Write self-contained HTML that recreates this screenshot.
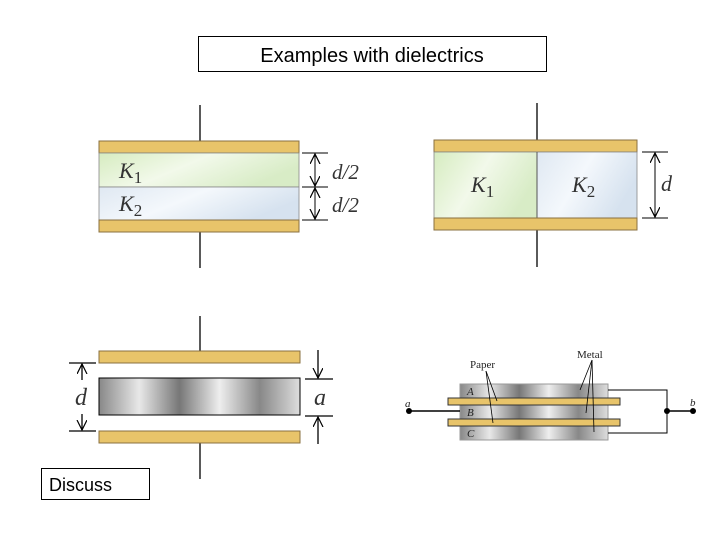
<!DOCTYPE html>
<html><head><style>body{margin:0;background:#fff}svg{display:block}</style></head><body>
<svg width="720" height="540" xmlns="http://www.w3.org/2000/svg" font-family="Liberation Serif, serif">
<defs>
<linearGradient id="g1" x1="0" y1="0" x2="1" y2="0.4"><stop offset="0" stop-color="#d6ecc0"/><stop offset="0.5" stop-color="#f2f9ea"/><stop offset="1" stop-color="#d8ecc6"/></linearGradient>
<linearGradient id="g2" x1="0" y1="0" x2="1" y2="0.4"><stop offset="0" stop-color="#dfe8f2"/><stop offset="0.5" stop-color="#f4f8fc"/><stop offset="1" stop-color="#d6e2ef"/></linearGradient>
<linearGradient id="gm2" x1="0" y1="0" x2="1" y2="0"><stop offset="0" stop-color="#888"/><stop offset="0.2" stop-color="#e8e8e8"/><stop offset="0.4" stop-color="#777"/><stop offset="0.6" stop-color="#eee"/><stop offset="0.8" stop-color="#888"/><stop offset="1" stop-color="#ddd"/></linearGradient>
<marker id="ah" markerWidth="12" markerHeight="12" refX="10" refY="5" orient="auto" markerUnits="userSpaceOnUse"><path d="M0,0 L10,5 L0,10" fill="none" stroke="#000" stroke-width="1.2"/></marker>
</defs>
<rect x="198.5" y="36.5" width="348" height="35" fill="#fff" stroke="#000" stroke-width="1"/>
<text x="372" y="62" font-family="Liberation Sans, sans-serif" font-size="20" text-anchor="middle">Examples with dielectrics</text>

<g stroke="#000" stroke-width="1.3">
<line x1="200" y1="105" x2="200" y2="141"/><line x1="200" y1="232" x2="200" y2="268"/>
<rect x="99" y="141" width="200" height="12" fill="#e8c46a" stroke="#8a7040" stroke-width="1"/>
<rect x="99" y="153" width="200" height="34" fill="url(#g1)" stroke="#888" stroke-width="0.8"/>
<rect x="99" y="187" width="200" height="33" fill="url(#g2)" stroke="#888" stroke-width="0.8"/>
<rect x="99" y="220" width="200" height="12" fill="#e8c46a" stroke="#8a7040" stroke-width="1"/>
<line x1="302" y1="153" x2="328" y2="153" stroke-width="1"/><line x1="302" y1="187" x2="328" y2="187" stroke-width="1"/><line x1="302" y1="220" x2="328" y2="220" stroke-width="1"/>
<line x1="315" y1="170" x2="315" y2="154" marker-end="url(#ah)" stroke-width="1"/><line x1="315" y1="170" x2="315" y2="186" marker-end="url(#ah)" stroke-width="1"/>
<line x1="315" y1="203" x2="315" y2="188" marker-end="url(#ah)" stroke-width="1"/><line x1="315" y1="203" x2="315" y2="219" marker-end="url(#ah)" stroke-width="1"/>
</g>
<text x="119" y="178" font-size="22" font-style="italic" fill="#333">K<tspan font-size="17" font-style="normal" dy="5">1</tspan></text>
<text x="119" y="211" font-size="22" font-style="italic" fill="#333">K<tspan font-size="17" font-style="normal" dy="5">2</tspan></text>
<text x="332" y="179" font-size="21" font-style="italic" fill="#333">d/2</text>
<text x="332" y="212" font-size="21" font-style="italic" fill="#333">d/2</text>

<g stroke="#000" stroke-width="1.3">
<line x1="537" y1="103" x2="537" y2="140"/><line x1="537" y1="230" x2="537" y2="267"/>
<rect x="434" y="140" width="203" height="12" fill="#e8c46a" stroke="#8a7040" stroke-width="1"/>
<rect x="434" y="152" width="103" height="66" fill="url(#g1)" stroke="#888" stroke-width="0.8"/>
<rect x="537" y="152" width="100" height="66" fill="url(#g2)" stroke="#888" stroke-width="0.8"/>
<line x1="537" y1="152" x2="537" y2="218" stroke="#555" stroke-width="1"/>
<rect x="434" y="218" width="203" height="12" fill="#e8c46a" stroke="#8a7040" stroke-width="1"/>
<line x1="642" y1="152" x2="668" y2="152" stroke-width="1"/><line x1="642" y1="218" x2="668" y2="218" stroke-width="1"/>
<line x1="655" y1="185" x2="655" y2="153" marker-end="url(#ah)" stroke-width="1"/><line x1="655" y1="185" x2="655" y2="217" marker-end="url(#ah)" stroke-width="1"/>
</g>
<text x="471" y="192" font-size="22" font-style="italic" fill="#333">K<tspan font-size="17" font-style="normal" dy="5">1</tspan></text>
<text x="572" y="192" font-size="22" font-style="italic" fill="#333">K<tspan font-size="17" font-style="normal" dy="5">2</tspan></text>
<text x="661" y="191" font-size="22" font-style="italic" fill="#333">d</text>

<g stroke="#000" stroke-width="1.3">
<line x1="200" y1="316" x2="200" y2="351"/><line x1="200" y1="443" x2="200" y2="479"/>
<rect x="99" y="351" width="201" height="12" fill="#e8c46a" stroke="#8a7040" stroke-width="1"/>
<rect x="99" y="378" width="201" height="37" fill="url(#gm2)" stroke="#000" stroke-width="1"/>
<rect x="99" y="431" width="201" height="12" fill="#e8c46a" stroke="#8a7040" stroke-width="1"/>
<line x1="69" y1="363" x2="96" y2="363"/><line x1="69" y1="431" x2="96" y2="431"/>
<line x1="82" y1="380" x2="82" y2="364" marker-end="url(#ah)"/><line x1="82" y1="414" x2="82" y2="430" marker-end="url(#ah)"/>
<line x1="305" y1="379" x2="333" y2="379"/><line x1="305" y1="416" x2="333" y2="416"/>
<line x1="318" y1="350" x2="318" y2="378" marker-end="url(#ah)"/><line x1="318" y1="444" x2="318" y2="417" marker-end="url(#ah)"/>
</g>
<text x="75" y="405" font-size="24" font-style="italic" fill="#333">d</text>
<text x="314" y="405" font-size="24" font-style="italic" fill="#333">a</text>
<rect x="41.5" y="468.5" width="108" height="31" fill="#fff" stroke="#000" stroke-width="1"/>
<text x="49" y="491" font-family="Liberation Sans, sans-serif" font-size="18">Discuss</text>

<g stroke="#000" stroke-width="1">
<rect x="460" y="384" width="148" height="56" fill="url(#gm2)" stroke="#999"/>
<rect x="448" y="398" width="172" height="7" fill="#e8c46a" stroke="#333"/>
<rect x="448" y="419" width="172" height="7" fill="#e8c46a" stroke="#333"/>
<line x1="409" y1="411" x2="460" y2="411" stroke-width="1.5"/>
<polyline points="608,390 667,390 667,433 608,433" fill="none"/>
<line x1="667" y1="411" x2="693" y2="411" stroke-width="1.5"/>
<line x1="486" y1="371" x2="497" y2="401" stroke-width="0.8"/><line x1="486" y1="371" x2="493" y2="423" stroke-width="0.8"/>
<line x1="592" y1="360" x2="580" y2="390" stroke-width="0.8"/><line x1="592" y1="360" x2="586" y2="413" stroke-width="0.8"/><line x1="592" y1="360" x2="594" y2="432" stroke-width="0.8"/>
</g>
<circle cx="409" cy="411" r="3"/><circle cx="667" cy="411" r="3"/><circle cx="693" cy="411" r="3"/>
<g font-size="11" font-style="italic" fill="#222">
<text x="467" y="395">A</text><text x="467" y="416">B</text><text x="467" y="437">C</text>
<text x="405" y="407">a</text><text x="690" y="406">b</text>
</g>
<text x="470" y="368" font-size="11" fill="#222">Paper</text>
<text x="577" y="358" font-size="11" fill="#222">Metal</text>
</svg>
</body></html>
